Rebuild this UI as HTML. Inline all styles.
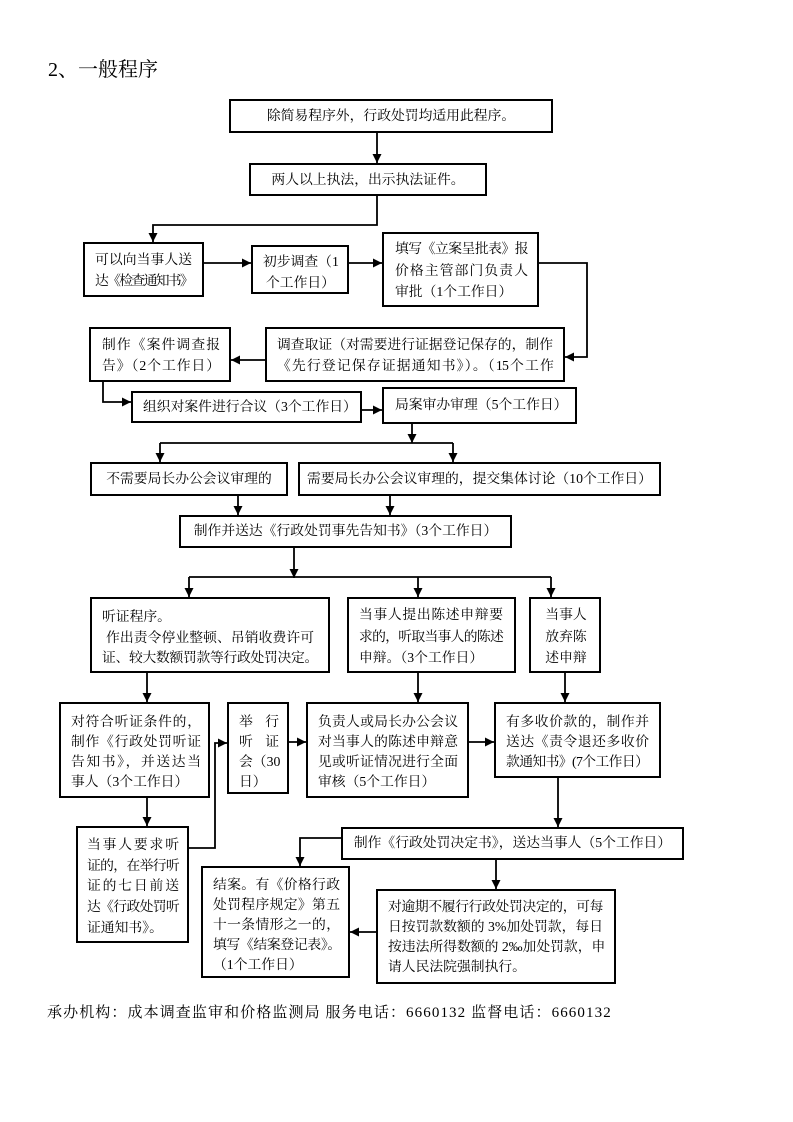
<!DOCTYPE html>
<html><head><meta charset="utf-8">
<style>
html,body{margin:0;padding:0;background:#fff;}
#p{position:relative;width:793px;height:1122px;overflow:hidden;background:#fff;font-family:"Liberation Serif","Noto Serif CJK SC",serif;color:#000;}
svg{position:absolute;left:0;top:0;}
.t{position:absolute;font-size:13.8px;line-height:20px;height:20px;white-space:nowrap;}
.j{text-align:justify;text-align-last:justify;}
.c{text-align:center;}
</style></head><body><div id="p">
<svg width="793" height="1122" viewBox="0 0 793 1122">
<defs><marker id="a" markerWidth="9" markerHeight="9" refX="9" refY="4.5" orient="auto" markerUnits="userSpaceOnUse"><path d="M0,0 L9,4.5 L0,9 z" fill="#000"/></marker></defs>
<g fill="none" stroke="#000" stroke-width="2">
<rect x="230" y="100" width="322" height="32"/>
<rect x="250" y="164" width="236" height="31"/>
<rect x="84" y="243" width="119" height="53"/>
<rect x="252" y="246" width="96" height="47"/>
<rect x="383" y="233" width="155" height="73"/>
<rect x="266" y="328" width="298" height="53"/>
<rect x="90" y="328" width="140" height="53"/>
<rect x="132" y="392" width="229" height="30"/>
<rect x="383" y="388" width="193" height="35"/>
<rect x="91" y="463" width="196" height="32"/>
<rect x="299" y="463" width="361" height="32"/>
<rect x="180" y="516" width="331" height="31"/>
<rect x="91" y="598" width="238" height="74"/>
<rect x="348" y="598" width="167" height="74"/>
<rect x="530" y="598" width="70" height="74"/>
<rect x="60" y="703" width="149" height="94"/>
<rect x="228" y="703" width="60" height="90"/>
<rect x="307" y="703" width="161" height="94"/>
<rect x="495" y="703" width="165" height="74"/>
<rect x="342" y="828" width="341" height="31"/>
<rect x="202" y="867" width="147" height="110"/>
<rect x="377" y="890" width="238" height="93"/>
<rect x="77" y="827" width="111" height="115"/>
</g>
<g fill="none" stroke="#000" stroke-width="1.8">
<polyline points="377,132 377,163" marker-end="url(#a)"/>
<polyline points="377,195 377,225 153,225 153,242" marker-end="url(#a)"/>
<polyline points="203,263 251,263" marker-end="url(#a)"/>
<polyline points="348,263 382,263" marker-end="url(#a)"/>
<polyline points="538,263 587,263 587,357 565,357" marker-end="url(#a)"/>
<polyline points="266,360 231,360" marker-end="url(#a)"/>
<polyline points="103,381 103,402 131,402" marker-end="url(#a)"/>
<polyline points="361,410 382,410" marker-end="url(#a)"/>
<polyline points="412,423 412,443" marker-end="url(#a)"/>
<polyline points="160,443 453,443"/>
<polyline points="160,443 160,462" marker-end="url(#a)"/>
<polyline points="453,443 453,462" marker-end="url(#a)"/>
<polyline points="238,495 238,515" marker-end="url(#a)"/>
<polyline points="390,495 390,515" marker-end="url(#a)"/>
<polyline points="294,547 294,578" marker-end="url(#a)"/>
<polyline points="189,577 551,577"/>
<polyline points="189,577 189,597" marker-end="url(#a)"/>
<polyline points="418,577 418,597" marker-end="url(#a)"/>
<polyline points="551,577 551,597" marker-end="url(#a)"/>
<polyline points="147,672 147,702" marker-end="url(#a)"/>
<polyline points="418,672 418,702" marker-end="url(#a)"/>
<polyline points="565,672 565,702" marker-end="url(#a)"/>
<polyline points="288,742 306,742" marker-end="url(#a)"/>
<polyline points="468,742 494,742" marker-end="url(#a)"/>
<polyline points="558,777 558,827" marker-end="url(#a)"/>
<polyline points="342,838 300,838 300,866" marker-end="url(#a)"/>
<polyline points="496,859 496,889" marker-end="url(#a)"/>
<polyline points="377,932 350,932" marker-end="url(#a)"/>
<polyline points="147,797 147,826" marker-end="url(#a)"/>
<polyline points="188,848 215,848 215,743 227,743" marker-end="url(#a)"/>
</g>
</svg>

<div class="t" style="left:48px;top:57px;font-size:20px;line-height:26px;height:26px;">2、一般程序</div>

<div class="t c" style="left:230px;top:106px;width:322px;">除简易程序外，行政处罚均适用此程序。</div>
<div class="t c" style="left:250px;top:170px;width:236px;">两人以上执法，出示执法证件。</div>

<div class="t j" style="left:95px;top:250px;width:97px;">可以向当事人送</div>
<div class="t j" style="left:95px;top:271px;width:97px;letter-spacing:-1.8px;">达《检查通知书》</div>

<div class="t" style="left:263px;top:252px;">初步调查（1</div>
<div class="t" style="left:266px;top:273px;">个工作日）</div>

<div class="t j" style="left:395px;top:239px;width:133px;letter-spacing:-0.6px;">填写《立案呈批表》报</div>
<div class="t j" style="left:395px;top:261px;width:133px;">价格主管部门负责人</div>
<div class="t" style="left:395px;top:282px;">审批（1个工作日）</div>

<div class="t j" style="left:277px;top:335px;width:276px;">调查取证（对需要进行证据登记保存的，制作</div>
<div class="t j" style="left:277px;top:356px;width:276px;letter-spacing:-0.8px;">《先行登记保存证据通知书》）。（15个工作</div>

<div class="t j" style="left:102px;top:335px;width:118px;">制作《案件调查报</div>
<div class="t j" style="left:102px;top:356px;width:118px;">告》（2个工作日）</div>

<div class="t" style="left:143px;top:397px;">组织对案件进行合议（3个工作日）</div>
<div class="t" style="left:395px;top:395px;">局案审办审理（5个工作日）</div>

<div class="t c" style="left:91px;top:469px;width:196px;">不需要局长办公会议审理的</div>
<div class="t c" style="left:299px;top:469px;width:361px;">需要局长办公会议审理的，提交集体讨论（10个工作日）</div>
<div class="t c" style="left:180px;top:521px;width:331px;">制作并送达《行政处罚事先告知书》（3个工作日）</div>

<div class="t" style="left:102px;top:607px;">听证程序。</div>
<div class="t j" style="left:106px;top:628px;width:208px;">作出责令停业整顿、吊销收费许可</div>
<div class="t j" style="left:102px;top:648px;width:216px;letter-spacing:-0.3px;">证、较大数额罚款等行政处罚决定。</div>

<div class="t j" style="left:359px;top:605px;width:144px;">当事人提出陈述申辩要</div>
<div class="t j" style="left:359px;top:627px;width:144px;letter-spacing:-0.7px;">求的，听取当事人的陈述</div>
<div class="t" style="left:359px;top:648px;">申辩。（3个工作日）</div>

<div class="t c" style="left:530px;top:605px;width:72px;">当事人</div>
<div class="t c" style="left:530px;top:627px;width:72px;">放弃陈</div>
<div class="t c" style="left:530px;top:648px;width:72px;">述申辩</div>

<div class="t j" style="left:71px;top:712px;width:130px;">对符合听证条件的，</div>
<div class="t j" style="left:71px;top:732px;width:130px;">制作《行政处罚听证</div>
<div class="t j" style="left:71px;top:752px;width:130px;">告知书》，并送达当</div>
<div class="t" style="left:71px;top:772px;">事人（3个工作日）</div>

<div class="t j" style="left:239px;top:712px;width:40px;">举行</div>
<div class="t j" style="left:239px;top:732px;width:40px;">听证</div>
<div class="t" style="left:239px;top:752px;">会（30</div>
<div class="t" style="left:239px;top:772px;">日）</div>

<div class="t j" style="left:318px;top:712px;width:140px;">负责人或局长办公会议</div>
<div class="t j" style="left:318px;top:732px;width:140px;">对当事人的陈述申辩意</div>
<div class="t j" style="left:318px;top:752px;width:140px;">见或听证情况进行全面</div>
<div class="t" style="left:318px;top:772px;">审核（5个工作日）</div>

<div class="t j" style="left:506px;top:712px;width:143px;">有多收价款的，制作并</div>
<div class="t j" style="left:506px;top:732px;width:143px;">送达《责令退还多收价</div>
<div class="t" style="left:506px;top:752px;letter-spacing:-0.6px;">款通知书》(7个工作日）</div>

<div class="t c" style="left:342px;top:833px;width:341px;">制作《行政处罚决定书》，送达当事人（5个工作日）</div>

<div class="t j" style="left:213px;top:875px;width:127px;">结案。有《价格行政</div>
<div class="t j" style="left:213px;top:895px;width:127px;">处罚程序规定》第五</div>
<div class="t j" style="left:213px;top:915px;width:127px;">十一条情形之一的，</div>
<div class="t j" style="left:213px;top:935px;width:127px;letter-spacing:-1.2px;">填写《结案登记表》。</div>
<div class="t" style="left:213px;top:955px;">（1个工作日）</div>

<div class="t j" style="left:388px;top:897px;width:215px;letter-spacing:-0.4px;">对逾期不履行行政处罚决定的，可每</div>
<div class="t j" style="left:388px;top:917px;width:215px;">日按罚款数额的 3%加处罚款，每日</div>
<div class="t j" style="left:388px;top:937px;width:215px;">按违法所得数额的 2‰加处罚款，申</div>
<div class="t" style="left:388px;top:957px;">请人民法院强制执行。</div>

<div class="t j" style="left:87px;top:835px;width:92px;">当事人要求听</div>
<div class="t j" style="left:87px;top:856px;width:92px;letter-spacing:-0.7px;">证的，在举行听</div>
<div class="t j" style="left:87px;top:876px;width:92px;">证的七日前送</div>
<div class="t j" style="left:87px;top:897px;width:92px;letter-spacing:-0.7px;">达《行政处罚听</div>
<div class="t" style="left:87px;top:918px;">证通知书》。</div>

<div class="t" style="left:47px;top:1002px;font-size:15px;line-height:22px;height:22px;letter-spacing:1.1px;">承办机构：成本调查监审和价格监测局 服务电话：6660132 监督电话：6660132</div>
</div></body></html>
